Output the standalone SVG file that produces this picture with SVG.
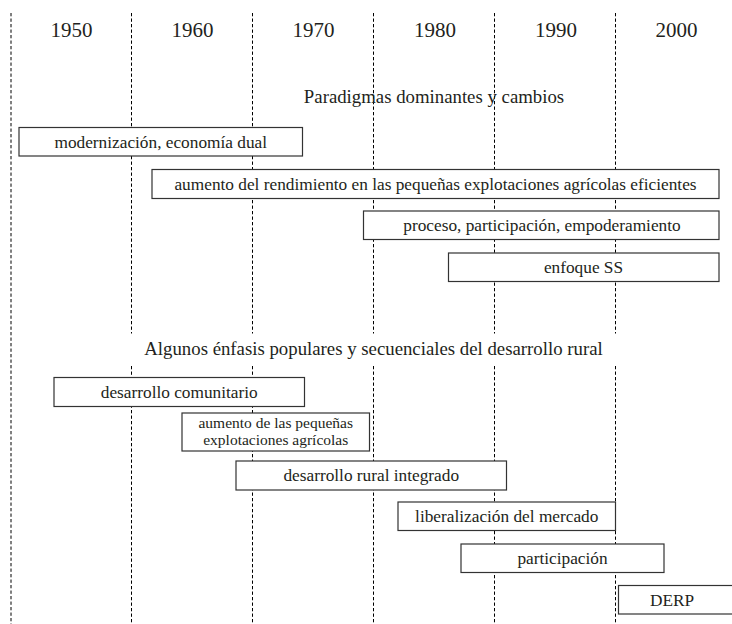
<svg xmlns="http://www.w3.org/2000/svg" width="732" height="624" viewBox="0 0 732 624">
<style>
.grid{stroke:#000;stroke-width:1;stroke-dasharray:3.3 2.2;fill:none}
.box rect{fill:#fff;stroke:#333;stroke-width:1.2}
.yr{font-size:21px}
.ttl{font-size:18.8px}
.lbl{font-size:17.3px}
.lbl2{font-size:15.5px}
</style>
<rect width="732" height="624" fill="#fff"/>
<g id="connectors">
<line class="grid" x1="11" y1="13" x2="11" y2="624"/>
<path class="grid" d="M131.5 13V333.5M131.5 366V624"/>
<path class="grid" d="M252.5 13V333.5M252.5 366V624"/>
<path class="grid" d="M373.5 13V333.5M373.5 366V624"/>
<path class="grid" d="M494.5 13V333.5M494.5 366V624"/>
<path class="grid" d="M615.5 13V333.5M615.5 366V624"/>
</g>
<g font-family="Liberation Serif, DejaVu Serif, serif" fill="#231f20" text-anchor="middle">
<g id="years">
<text class="yr" x="71.5" y="37">1950</text>
<text class="yr" x="192.5" y="37">1960</text>
<text class="yr" x="313.5" y="37">1970</text>
<text class="yr" x="435" y="37">1980</text>
<text class="yr" x="556" y="37">1990</text>
<text class="yr" x="676.5" y="37">2000</text>
</g>
<g id="title1"><text class="ttl" x="434" y="103">Paradigmas dominantes y cambios</text></g>
<g id="title2"><text class="ttl" x="373.5" y="355">Algunos énfasis populares y secuenciales del desarrollo rural</text></g>
<g id="n1" class="box"><rect x="19" y="127.5" width="283.5" height="28.5"/><text class="lbl" x="160.75" y="147.5">modernización, economía dual</text></g>
<g id="n2" class="box"><rect x="152" y="169.5" width="567" height="29"/><text class="lbl" x="435.5" y="189.8">aumento del rendimiento en las pequeñas explotaciones agrícolas eficientes</text></g>
<g id="n3" class="box"><rect x="363.5" y="211" width="355.5" height="28.5"/><text class="lbl" x="542" y="231">proceso, participación, empoderamiento</text></g>
<g id="n4" class="box"><rect x="448.5" y="253" width="270.5" height="28.5"/><text class="lbl" x="583.5" y="273">enfoque SS</text></g>
<g id="n5" class="box"><rect x="54" y="377.5" width="250.5" height="29"/><text class="lbl" x="179.25" y="397.8">desarrollo comunitario</text></g>
<g id="n6" class="box"><rect x="182" y="413" width="187.5" height="38"/><text class="lbl2" x="275.75" y="427.5">aumento de las pequeñas</text><text class="lbl2" x="275.75" y="444.8">explotaciones agrícolas</text></g>
<g id="n7" class="box"><rect x="236" y="461" width="270.5" height="29"/><text class="lbl" x="371.25" y="481.3">desarrollo rural integrado</text></g>
<g id="n8" class="box"><rect x="398" y="502" width="217.5" height="28.5"/><text class="lbl" x="506.75" y="522">liberalización del mercado</text></g>
<g id="n9" class="box"><rect x="461" y="544" width="203" height="28.5"/><text class="lbl" x="562.5" y="564">participación</text></g>
<g id="n10" class="box"><rect x="618.5" y="585.5" width="130" height="28.5"/><text class="lbl" x="672" y="605.5">DERP</text></g>
</g>
</svg>
